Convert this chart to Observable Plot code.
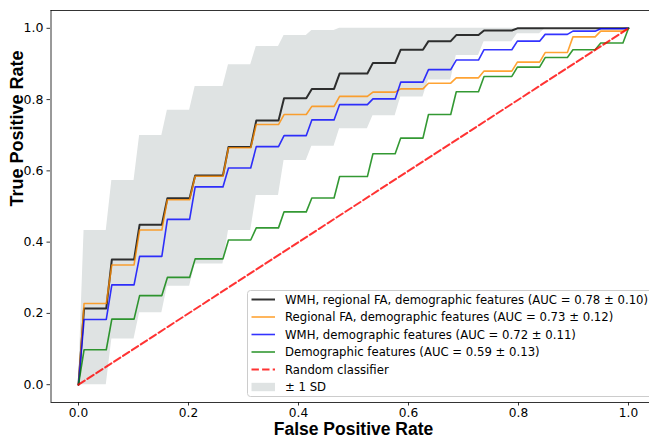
<!DOCTYPE html>
<html>
<head>
<meta charset="utf-8">
<script src="https://cdn.jsdelivr.net/npm/d3@7"></script>
<script src="https://cdn.jsdelivr.net/npm/@observablehq/plot@0.6"></script>
<style>
  html, body { margin: 0; padding: 0; background: #fff; }
  #wrap { position: relative; width: 649px; height: 439px; overflow: hidden; background: #fff; }
  #legend { position: absolute; left: 247px; top: 290px; }
</style>
</head>
<body>
<div id="wrap"></div>
<script>
// ---- data ----
const xTicks = [0.0, 0.2, 0.4, 0.6, 0.8, 1.0];
const yTicks = [0.0, 0.2, 0.4, 0.6, 0.8, 1.0];

// number of FPR steps (negatives per fold) and interpolation grid of mean ROC
const nSteps = 19;
const gridIntervals = 99;

// mean TPR level on each FPR step
const tprWmhFaDemo = [0.214, 0.351, 0.449, 0.523, 0.587, 0.667, 0.741, 0.804, 0.830, 0.873, 0.903, 0.940, 0.964, 0.981, 0.994, 1.0, 1.0, 1.0, 1.0];
const tprFaDemo    = [0.228, 0.336, 0.434, 0.519, 0.585, 0.665, 0.730, 0.758, 0.781, 0.809, 0.821, 0.830, 0.846, 0.861, 0.880, 0.905, 0.932, 0.976, 0.992];
const tprWmhDemo   = [0.183, 0.280, 0.360, 0.464, 0.555, 0.608, 0.668, 0.699, 0.743, 0.786, 0.802, 0.849, 0.884, 0.911, 0.940, 0.964, 0.983, 0.992, 0.999];
const tprDemo      = [0.098, 0.184, 0.250, 0.301, 0.353, 0.406, 0.440, 0.485, 0.524, 0.584, 0.648, 0.692, 0.758, 0.822, 0.865, 0.891, 0.918, 0.940, 0.959];
// ±1 SD band (around the WMH + regional FA + demographic curve)
const sdUpper = [0.433, 0.573, 0.699, 0.770, 0.837, 0.898, 0.949, 0.980, 0.994, 1.0, 1.0, 1.0, 1.0, 1.0, 1.0, 1.0, 1.0, 1.0, 1.0];
const sdLower = [0.000, 0.128, 0.202, 0.276, 0.339, 0.433, 0.531, 0.629, 0.669, 0.718, 0.755, 0.807, 0.855, 0.924, 0.962, 0.985, 1.0, 1.0, 1.0];
// random classifier
const chanceFpr = [0, 1];
const chanceTpr = [0, 1];

const seriesNames = [
  "WMH, regional FA, demographic features (AUC = 0.78 ± 0.10)",
  "Regional FA, demographic features (AUC = 0.73 ± 0.12)",
  "WMH, demographic features (AUC = 0.72 ± 0.11)",
  "Demographic features (AUC = 0.59 ± 0.13)"
];
const seriesLevels = [tprWmhFaDemo, tprFaDemo, tprWmhDemo, tprDemo];
const seriesColors = ["#000000", "#ff8c00", "#0000ff", "#008000"];
const chanceName = "Random classifier";
const bandName = "± 1 SD";

// ---- build step polylines (steps rise across one grid interval) ----
function stepX(levels) {
  const n = levels.length, g = gridIntervals;
  const xs = [0];
  for (let k = 0; k < n; k++) {
    const s = k === 0 ? 0 : Math.floor(g * k / n) / g;
    xs.push(s + 1 / g);
    xs.push(k < n - 1 ? Math.floor(g * (k + 1) / n) / g : (g - 1) / g);
  }
  xs.push(1);
  return xs;
}
function stepY(levels) {
  const ys = [0];
  for (let k = 0; k < levels.length; k++) { ys.push(levels[k]); ys.push(levels[k]); }
  ys.push(1);
  return ys;
}
const lineData = [];
seriesLevels.forEach((lv, i) => {
  const xs = stepX(lv), ys = stepY(lv);
  xs.forEach((x, j) => lineData.push({series: seriesNames[i], x, y: ys[j]}));
});
const bx = stepX(sdUpper), bhi = stepY(sdUpper), blo = stepY(sdLower);
const bandData = bx.map((x, j) => ({x, lo: blo[j], hi: bhi[j]}));
const chanceData = chanceFpr.map((x, i) => ({x, y: chanceTpr[i]}));

const lineWidths = [2, 1.6, 1.6, 1.6];

const chart = Plot.plot({
  width: 649,
  height: 439,
  marginLeft: 50,
  marginRight: 0,
  marginTop: 10,
  marginBottom: 37,
  x: {domain: [-0.05, 1.05], range: [50.5, 655.5]},
  y: {domain: [-0.05, 1.05], range: [402, 10]},
  style: {fontFamily: "DejaVu Sans, sans-serif", fontSize: "12px", color: "#000", background: "#fff", overflow: "hidden"},
  marks: [
    Plot.areaY(bandData, {x: "x", y1: "lo", y2: "hi", fill: "#dfe3e3", curve: "linear"}),
    ...seriesNames.map((name, i) =>
      Plot.line(lineData.filter(d => d.series === name), {
        x: "x", y: "y", stroke: seriesColors[i], strokeOpacity: 0.8, strokeWidth: lineWidths[i], curve: "linear"
      })
    ),
    Plot.line(chanceData, {x: "x", y: "y", stroke: "#ff0000", strokeOpacity: 0.8, strokeWidth: 2, strokeDasharray: "7.4,3.2"}),
    // spines
    Plot.ruleY([-0.05, 1.05], {x1: -0.05, x2: 1.05, stroke: "#000", strokeWidth: 0.8}),
    Plot.ruleX([-0.05, 1.05], {y1: -0.05, y2: 1.05, stroke: "#000", strokeWidth: 0.8}),
    Plot.axisX({ticks: xTicks, tickFormat: d3.format(".1f"), tickSize: 3.5, tickPadding: 2.5, label: null, anchor: "bottom", strokeWidth: 0.8, fontSize: 12.2}),
    Plot.axisY({ticks: yTicks, tickFormat: d3.format(".1f"), tickSize: 3.5, tickPadding: 3.5, label: null, anchor: "left", strokeWidth: 0.8, fontSize: 12.5}),
    Plot.text(["False Positive Rate"], {frameAnchor: "bottom", lineAnchor: "middle", dx: 3.5, dy: 27, fontFamily: "Liberation Sans, Arial, sans-serif", fontWeight: "bold", fontSize: 17.5, fill: "#000"}),
    Plot.text(["True Positive Rate"], {frameAnchor: "left", lineAnchor: "middle", dx: -33, rotate: -90, fontFamily: "Liberation Sans, Arial, sans-serif", fontWeight: "bold", fontSize: 18, fill: "#000"})
  ]
});
document.getElementById("wrap").appendChild(chart);

// ---- legend (matplotlib-style, lower right, clipped by figure edge) ----
const entries = seriesNames.map((n, i) => ({label: n, type: "line", color: seriesColors[i], width: lineWidths[i]}))
  .concat([{label: chanceName, type: "dash", color: "#ff0000", width: 2},
           {label: bandName, type: "patch", color: "#dfe3e3"}]);
const lg = d3.select("#wrap").append("svg").attr("id", "legend").attr("width", 420).attr("height", 108);
lg.append("rect").attr("x", 0.5).attr("y", 0.5).attr("width", 418).attr("height", 106).attr("rx", 3)
  .attr("fill", "#fff").attr("fill-opacity", 0.8).attr("stroke", "#cccccc").attr("stroke-width", 1);
const row = lg.selectAll("g.row").data(entries).join("g").attr("class", "row")
  .attr("transform", (d, i) => `translate(0,${9.5 + i * 17.5})`);
row.filter(d => d.type !== "patch").append("line")
  .attr("x1", 4.5).attr("x2", 28).attr("y1", 0).attr("y2", 0)
  .attr("stroke", d => d.color).attr("stroke-opacity", 0.8).attr("stroke-width", d => d.width)
  .attr("stroke-dasharray", d => d.type === "dash" ? "7.4,3.2" : null);
row.filter(d => d.type === "patch").append("rect")
  .attr("x", 4.5).attr("y", -4.2).attr("width", 23.5).attr("height", 8.4).attr("fill", d => d.color);
row.append("text").attr("x", 38).attr("y", 0).attr("dy", "0.35em")
  .attr("font-family", "DejaVu Sans, sans-serif").attr("font-size", 11.7).attr("fill", "#000")
  .text(d => d.label);
</script>
</body>
</html>
